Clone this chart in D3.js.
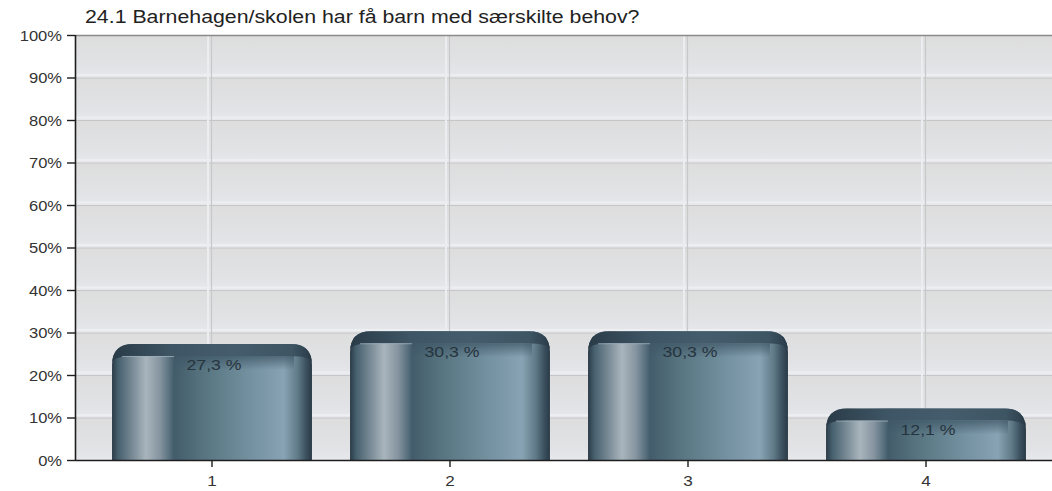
<!DOCTYPE html>
<html>
<head>
<meta charset="utf-8">
<script src="https://cdn.jsdelivr.net/npm/d3@7"></script>
<style>
  html, body { margin: 0; padding: 0; background: #ffffff; }
  svg { display: block; }
  text { font-family: "Liberation Sans", Arial, Helvetica, sans-serif; }
</style>
</head>
<body>
<svg id="chart" width="1052" height="491"></svg>
<script>
// Survey answers for question 24.1
const title = "24.1 Barnehagen/skolen har få barn med særskilte behov?";
const categories = ["1", "2", "3", "4"];
const values = [27.3, 30.3, 30.3, 12.1];
const valueLabels = ["27,3 %", "30,3 %", "30,3 %", "12,1 %"];
const yTickValues = [0, 10, 20, 30, 40, 50, 60, 70, 80, 90, 100];
const yTickLabels = ["0%", "10%", "20%", "30%", "40%", "50%", "60%", "70%", "80%", "90%", "100%"];

const W = 1052, H = 491;
const plot = { left: 75, right: 1052, top: 35, bottom: 460 };
const textStretch = 1.14;

const svg = d3.select("#chart");
const defs = svg.append("defs");

const x = d3.scaleBand()
  .domain(categories)
  .range([93, 1045])
  .paddingInner(0.16)
  .paddingOuter(0.08);

const y = d3.scaleLinear()
  .domain([0, 100])
  .range([plot.bottom, plot.top]);

// Band background gradient (each 10% band fades from grey to pale blue-grey)
const bandGrad = defs.append("linearGradient")
  .attr("id", "bandGrad").attr("x1", 0).attr("y1", 0).attr("x2", 0).attr("y2", 1);
bandGrad.append("stop").attr("offset", 0).attr("stop-color", "#dddddd");
bandGrad.append("stop").attr("offset", 0.75).attr("stop-color", "#e2e3e6");
bandGrad.append("stop").attr("offset", 1).attr("stop-color", "#e6e8ec");

// Bar body: horizontal shading of a cylinder
const bodyGrad = defs.append("linearGradient")
  .attr("id", "bodyGrad").attr("x1", 0).attr("y1", 0).attr("x2", 1).attr("y2", 0);
[
  [0, "#2a3a46"], [0.03, "#46606e"], [0.09, "#70838f"], [0.17, "#a9b5bd"],
  [0.24, "#8594a0"], [0.29, "#566e7c"], [0.31, "#435c6b"], [0.45, "#56737f"],
  [0.7, "#7592a2"], [0.86, "#88a3b3"], [0.93, "#5f7987"], [0.97, "#3c5160"], [1, "#2a3a46"]
].forEach(([o, c]) => bodyGrad.append("stop").attr("offset", o).attr("stop-color", c));

// Dark cap along the rounded top
const capGrad = defs.append("linearGradient")
  .attr("id", "capGrad").attr("x1", 0).attr("y1", 0).attr("x2", 1).attr("y2", 0);
[
  [0, "#2a3b47"], [0.3, "#3e5565"], [0.6, "#445c6b"], [0.9, "#3e5564"], [1, "#2a3b47"]
].forEach(([o, c]) => capGrad.append("stop").attr("offset", o).attr("stop-color", c));

const fadeGrad = defs.append("linearGradient")
  .attr("id", "fadeGrad").attr("x1", 0).attr("y1", 0).attr("x2", 0).attr("y2", 1);
fadeGrad.append("stop").attr("offset", 0).attr("stop-color", "#3f5666").attr("stop-opacity", 0.75);
fadeGrad.append("stop").attr("offset", 1).attr("stop-color", "#3f5666").attr("stop-opacity", 0);

// Background bands
const bands = d3.range(10).map(i => [yTickValues[i], yTickValues[i + 1]]);
svg.append("g").selectAll("rect")
  .data(bands)
  .join("rect")
  .attr("x", plot.left)
  .attr("y", d => y(d[1]))
  .attr("width", plot.right - plot.left)
  .attr("height", d => y(d[0]) - y(d[1]))
  .attr("fill", "url(#bandGrad)");

// Horizontal grid lines with a soft highlight above
const grid = svg.append("g");
grid.selectAll("line.hl")
  .data(yTickValues.slice(1, -1))
  .join("line")
  .attr("class", "hl")
  .attr("x1", plot.left).attr("x2", plot.right)
  .attr("y1", d => y(d) - 2.5).attr("y2", d => y(d) - 2.5)
  .attr("stroke", "#eceef1").attr("stroke-width", 2);
grid.selectAll("line.g")
  .data(yTickValues.slice(1, -1))
  .join("line")
  .attr("class", "g")
  .attr("x1", plot.left).attr("x2", plot.right)
  .attr("y1", d => y(d) + 0.5).attr("y2", d => y(d) + 0.5)
  .attr("stroke", "#c6c6c8").attr("stroke-width", 1.2);

// Vertical grid lines at category centres
grid.selectAll("line.v")
  .data(categories)
  .join("line")
  .attr("class", "v")
  .attr("x1", d => x(d) + x.bandwidth() / 2 - 0.5)
  .attr("x2", d => x(d) + x.bandwidth() / 2 - 0.5)
  .attr("y1", plot.top).attr("y2", plot.bottom)
  .attr("stroke", "#c8c8ca").attr("stroke-width", 1.2);
grid.selectAll("line.vh")
  .data(categories)
  .join("line")
  .attr("class", "vh")
  .attr("x1", d => x(d) + x.bandwidth() / 2 - 4)
  .attr("x2", d => x(d) + x.bandwidth() / 2 - 4)
  .attr("y1", plot.top).attr("y2", plot.bottom)
  .attr("stroke", "#ebedf0").attr("stroke-width", 2);

// Top border of the plot
svg.append("line")
  .attr("x1", plot.left).attr("x2", plot.right)
  .attr("y1", plot.top + 0.5).attr("y2", plot.top + 0.5)
  .attr("stroke", "#8a8a8a").attr("stroke-width", 1.5);

// Bars
const R = 21;
function topRounded(x0, y0, w, h, r) {
  const rr = Math.min(r, h, w / 2);
  return `M${x0},${y0 + h}V${y0 + rr}Q${x0},${y0} ${x0 + rr},${y0}H${x0 + w - rr}Q${x0 + w},${y0} ${x0 + w},${y0 + rr}V${y0 + h}Z`;
}

const barData = categories.map((c, i) => ({ cat: c, value: values[i], label: valueLabels[i] }));
const bars = svg.append("g").selectAll("g")
  .data(barData)
  .join("g");

bars.append("path")
  .attr("d", d => topRounded(x(d.cat), y(d.value), x.bandwidth(), y(0) - y(d.value), R))
  .attr("fill", "url(#bodyGrad)");

// cap overlay: dark band following the rounded top, then a fade on the right part
const capH = 12;
bars.append("path")
  .attr("d", d => {
    const x0 = x(d.cat), y0 = y(d.value), w = x.bandwidth();
    return `M${x0},${y0 + R}Q${x0},${y0} ${x0 + R},${y0}H${x0 + w - R}Q${x0 + w},${y0} ${x0 + w},${y0 + R}` +
      `V${y0 + capH + 6}Q${x0 + w - 4},${y0 + capH} ${x0 + w - R},${y0 + capH}H${x0 + R}Q${x0 + 4},${y0 + capH} ${x0},${y0 + capH + 6}Z`;
  })
  .attr("fill", "url(#capGrad)");
bars.append("rect")
  .attr("x", d => x(d.cat) + x.bandwidth() * 0.31)
  .attr("y", d => y(d.value) + capH)
  .attr("width", d => x.bandwidth() * 0.6)
  .attr("height", 14)
  .attr("fill", "url(#fadeGrad)");
// light edge on top of the inner highlight column
bars.append("line")
  .attr("x1", d => x(d.cat) + x.bandwidth() * 0.05)
  .attr("x2", d => x(d.cat) + x.bandwidth() * 0.31)
  .attr("y1", d => y(d.value) + capH + 0.5)
  .attr("y2", d => y(d.value) + capH + 0.5)
  .attr("stroke", "#9fb0bb").attr("stroke-width", 1).attr("opacity", 0.8);

// value labels inside the bar tops
bars.append("text")
  .attr("transform", d => `translate(${x(d.cat) + x.bandwidth() / 2 + 2},${y(d.value) + 26}) scale(${textStretch},1)`)
  .attr("text-anchor", "middle")
  .attr("font-size", 15.5)
  .attr("fill", "#26343e")
  .text(d => d.label);

// Axes
const axisG = svg.append("g");
axisG.append("line")
  .attr("x1", plot.left + 0.5).attr("x2", plot.left + 0.5)
  .attr("y1", plot.top).attr("y2", plot.bottom + 1)
  .attr("stroke", "#1e1e1e").attr("stroke-width", 1.6);
axisG.append("line")
  .attr("x1", plot.left).attr("x2", plot.right)
  .attr("y1", plot.bottom + 0.5).attr("y2", plot.bottom + 0.5)
  .attr("stroke", "#1e1e1e").attr("stroke-width", 1.6);

// y ticks and labels
axisG.selectAll("line.yt")
  .data(yTickValues)
  .join("line")
  .attr("class", "yt")
  .attr("x1", plot.left - 8).attr("x2", plot.left)
  .attr("y1", d => y(d) + 0.5).attr("y2", d => y(d) + 0.5)
  .attr("stroke", "#1e1e1e").attr("stroke-width", 1.4);
axisG.selectAll("text.yl")
  .data(yTickValues)
  .join("text")
  .attr("class", "yl")
  .attr("transform", d => `translate(${plot.left - 13},${y(d) + 5.5}) scale(${textStretch},1)`)
  .attr("text-anchor", "end")
  .attr("font-size", 14.5)
  .attr("fill", "#333")
  .text((d, i) => yTickLabels[i]);

// x ticks and labels
axisG.selectAll("line.xt")
  .data(categories)
  .join("line")
  .attr("class", "xt")
  .attr("x1", d => x(d) + x.bandwidth() / 2).attr("x2", d => x(d) + x.bandwidth() / 2)
  .attr("y1", plot.bottom).attr("y2", plot.bottom + 7)
  .attr("stroke", "#1e1e1e").attr("stroke-width", 1.4);
axisG.selectAll("text.xl")
  .data(categories)
  .join("text")
  .attr("class", "xl")
  .attr("transform", d => `translate(${x(d) + x.bandwidth() / 2},${plot.bottom + 26}) scale(${textStretch},1)`)
  .attr("text-anchor", "middle")
  .attr("font-size", 15)
  .attr("fill", "#333")
  .text(d => d);

// Title
svg.append("text")
  .attr("transform", `translate(85,23) scale(${textStretch},1)`)
  .attr("font-size", 18.7)
  .attr("fill", "#222")
  .text(title);
</script>
</body>
</html>
